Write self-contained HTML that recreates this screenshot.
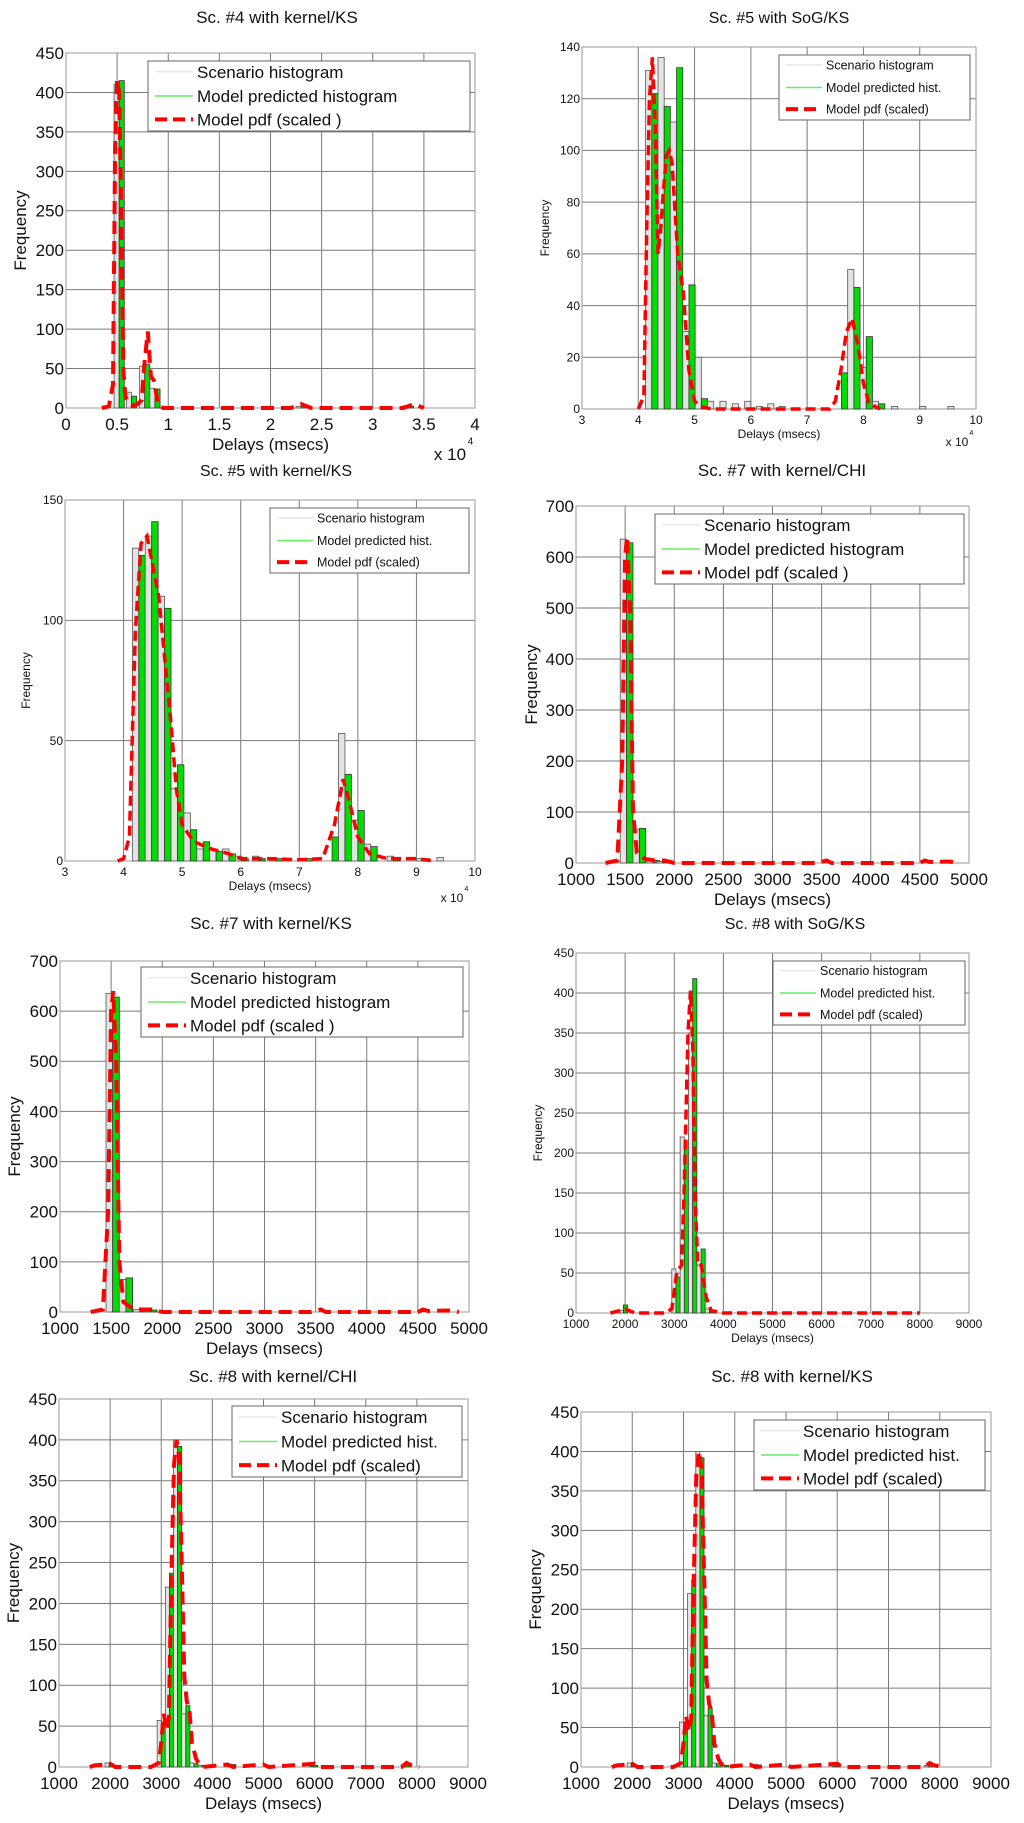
<!DOCTYPE html>
<html><head><meta charset="utf-8">
<style>
html,body{margin:0;padding:0;background:#fff;}
svg{display:block;font-family:"Liberation Sans",sans-serif;}
</style></head>
<body>
<svg id="fig" width="1024" height="1823" viewBox="0 0 1024 1823" xmlns="http://www.w3.org/2000/svg"></svg>
<script>
// ---------- DATA ----------
// Panel 1: Sc. #4 kernel/KS (x in 1e4 msecs)
var p1Bins  = [0.47, 0.59, 0.72, 0.82, 2.25, 3.30];
var p1Scen  = [410, 20, 53, 25, 2, 3];
var p1Model = [415, 15, 55, 24, 3, 2];
var p1PdfX  = [0.35,0.42,0.46,0.48,0.50,0.52,0.54,0.56,0.58,0.62,0.66,0.70,0.74,0.77,0.80,0.83,0.86,0.90,0.95,1.0,1.5,2.2,2.3,2.4,3.3,3.4,3.5];
var p1PdfY  = [0,2,30,330,415,400,250,50,15,5,3,5,10,60,97,40,35,5,0,0,0,0,5,0,0,5,0];
// Panel 2: Sc. #5 SoG/KS
var p2Bins  = [4.13,4.35,4.57,4.79,5.01,5.23,5.45,5.67,5.89,6.10,6.30,6.50,7.50,7.72,7.94,8.16,8.50,9.00,9.50];
var p2Scen  = [131,136,111,30,20,3,3,2,3,1,2,1,0,54,16,3,1,1,1];
var p2Model = [122,117,132,48,4,0,0,0,0,0,0,0,14,47,28,2,0,0,0];
var p2PdfX  = [4.0,4.1,4.15,4.2,4.25,4.3,4.35,4.4,4.45,4.5,4.55,4.6,4.7,4.8,4.9,5.0,5.1,5.3,6,7,7.4,7.5,7.6,7.7,7.8,7.9,8.0,8.1,8.3];
var p2PdfY  = [0,5,70,120,136,110,60,70,85,98,100,95,60,45,15,3,1,0,0,0,0,3,15,30,35,25,10,2,0];
// Panel 3: Sc. #5 kernel/KS
var p3Bins  = [4.15,4.37,4.59,4.81,5.03,5.25,5.47,5.69,5.91,6.2,6.5,7.0,7.45,7.67,7.89,8.11,8.5,9.0,9.35];
var p3Scen  = [130,135,110,30,20,5,5,5,2,2,1,1,0,53,17,7,2,1,1.5];
var p3Model = [127,141,105,40,13,8,4,3,1,1,1,1,10,36,21,6,1,1,0];
var p3PdfX  = [3.9,4.0,4.1,4.2,4.3,4.4,4.6,4.8,4.9,5.0,5.2,5.5,5.8,6.0,6.5,7.0,7.4,7.6,7.75,7.85,8.0,8.2,8.5,9.0,9.3];
var p3PdfY  = [0,1,10,95,132,135,110,60,30,15,8,5,3,1,1,0.5,1,15,34,25,10,3,1,1,0];
// Panel 4: Sc. #7 kernel/CHI
var p4Bins  = [1450,1580,1720,1820];
var p4Scen  = [635,65,5,3];
var p4Model = [628,68,5,4];
var p4PdfX  = [1300,1420,1470,1500,1520,1550,1580,1620,1700,1800,1900,2000,3450,3550,3600,4500,4550,4600,4800,4900];
var p4PdfY  = [0,5,200,600,640,500,100,20,8,5,5,0,0,5,0,0,5,2,3,0];
// Panel 5: Sc. #7 kernel/KS
var p5Bins  = [1450,1580,1720,1820];
var p5Scen  = [635,65,5,3];
var p5Model = [628,68,5,4];
var p5PdfX  = [1300,1420,1470,1500,1520,1550,1580,1620,1700,1800,1900,2000,3450,3550,3600,4500,4550,4600,4800,4900];
var p5PdfY  = [0,5,200,600,640,500,100,20,8,5,5,0,0,5,0,0,5,2,3,0];
// Panel 6: Sc. #8 SoG/KS
var p6Bins  = [1880,2950,3120,3290,3460,3630];
var p6Scen  = [3,55,220,350,60,5];
var p6Model = [10,45,215,418,80,3];
var p6PdfX  = [1700,1900,2000,2200,2800,2950,3050,3150,3200,3280,3330,3380,3420,3480,3550,3650,3750,4000,8000];
var p6PdfY  = [0,3,5,0,0,5,50,60,150,350,403,330,150,60,60,20,3,0,0];
// Panel 7: Sc. #8 kernel/CHI
var p7Bins  = [1900,2920,3080,3240,3400,3560,3720,4300,5900,7700];
var p7Scen  = [5,57,220,400,65,5,2,1,1,2];
var p7Model = [4,48,237,392,75,4,2,3,2,4];
var p7PdfX  = [1600,1700,1900,2000,2100,2800,2950,3000,3050,3100,3150,3200,3250,3300,3350,3400,3450,3500,3550,3600,3680,3750,3800,4300,4400,5000,5100,6000,6100,7700,7800,7900,8050];
var p7PdfY  = [0,2,3,4,0,0,5,30,65,45,60,240,370,400,380,250,110,80,70,30,10,3,0,3,0,3,0,4,0,0,5,2,0];
// Panel 8: Sc. #8 kernel/KS
var p8Bins  = [1900,2920,3080,3240,3400,3560,3720,4300,5900,7700];
var p8Scen  = [5,57,220,400,65,5,2,1,1,2];
var p8Model = [4,48,237,392,75,4,2,3,2,4];
var p8PdfX  = [1600,1700,1900,2000,2100,2800,2950,3000,3050,3100,3150,3200,3250,3300,3350,3400,3450,3500,3550,3600,3680,3750,3800,4300,4400,5000,5100,6000,6100,7700,7800,7900,8050];
var p8PdfY  = [0,2,3,4,0,0,5,30,65,45,60,240,370,400,380,250,110,80,70,30,10,3,0,3,0,3,0,4,0,0,5,2,0];

var xTicksA = ["0","0.5","1","1.5","2","2.5","3","3.5","4"];
var xTicksB = ["3","4","5","6","7","8","9","10"];
var xTicksC = ["1000","1500","2000","2500","3000","3500","4000","4500","5000"];
var xTicksD = ["1000","2000","3000","4000","5000","6000","7000","8000","9000"];

// ---------- LAYOUT ----------
var panels = [
 {id:"p1",title:"Sc. #4 with kernel/KS",tx:277,ty:23,L:66,R:475,T:53,B:408,xmin:0,xmax:4,xt:xTicksA,ymax:450,ystep:50,fs:17,tfs:17,bw:0.1,
  bins:p1Bins,scen:p1Scen,model:p1Model,px:p1PdfX,py:p1PdfY,leg:[148,61,470,131],legLabels:["Scenario histogram","Model predicted histogram","Model pdf (scaled )"],lfs:17,ylx:26,exp:[450,460]},
 {id:"p2",title:"Sc. #5 with SoG/KS",tx:779,ty:23,L:582,R:976,T:47,B:409,xmin:3,xmax:10,xt:xTicksB,ymax:140,ystep:20,fs:12,tfs:16,bw:0.22,
  bins:p2Bins,scen:p2Scen,model:p2Model,px:p2PdfX,py:p2PdfY,leg:[779,55,970,120],legLabels:["Scenario histogram","Model predicted hist.","Model pdf (scaled)"],lfs:12.5,ylx:549,exp:[957,446]},
 {id:"p3",title:"Sc. #5 with kernel/KS",tx:276,ty:476,L:65,R:475,T:500,B:861,xmin:3,xmax:10,xt:xTicksB,ymax:150,ystep:50,fs:12,tfs:16,bw:0.22,
  bins:p3Bins,scen:p3Scen,model:p3Model,px:p3PdfX,py:p3PdfY,leg:[270,508,469,573],legLabels:["Scenario histogram","Model predicted hist.","Model pdf (scaled)"],lfs:12.5,ylx:30,exp:[452,902]},
 {id:"p4",title:"Sc. #7 with kernel/CHI",tx:782,ty:476,L:576,R:969,T:506,B:863,xmin:1000,xmax:5000,xt:xTicksC,ymax:700,ystep:100,fs:17,tfs:17,bw:130,
  bins:p4Bins,scen:p4Scen,model:p4Model,px:p4PdfX,py:p4PdfY,leg:[655,514,964,584],legLabels:["Scenario histogram","Model predicted histogram","Model pdf (scaled )"],lfs:17,ylx:537},
 {id:"p5",title:"Sc. #7 with kernel/KS",tx:271,ty:929,L:60,R:469,T:961,B:1312,xmin:1000,xmax:5000,xt:xTicksC,ymax:700,ystep:100,fs:17,tfs:17,bw:130,
  bins:p5Bins,scen:p5Scen,model:p5Model,px:p5PdfX,py:p5PdfY,leg:[141,967,463,1037],legLabels:["Scenario histogram","Model predicted histogram","Model pdf (scaled )"],lfs:17,ylx:20},
 {id:"p6",title:"Sc. #8 with SoG/KS",tx:795,ty:929,L:576,R:969,T:953,B:1313,xmin:1000,xmax:9000,xt:xTicksD,ymax:450,ystep:50,fs:12,tfs:16,bw:170,
  bins:p6Bins,scen:p6Scen,model:p6Model,px:p6PdfX,py:p6PdfY,leg:[773,961,965,1025],legLabels:["Scenario histogram","Model predicted hist.","Model pdf (scaled)"],lfs:12.5,ylx:542},
 {id:"p7",title:"Sc. #8 with kernel/CHI",tx:273,ty:1382,L:59,R:468,T:1399,B:1767,xmin:1000,xmax:9000,xt:xTicksD,ymax:450,ystep:50,fs:17,tfs:17,bw:160,
  bins:p7Bins,scen:p7Scen,model:p7Model,px:p7PdfX,py:p7PdfY,leg:[232,1406,462,1477],legLabels:["Scenario histogram","Model predicted hist.","Model pdf (scaled)"],lfs:17,ylx:19},
 {id:"p8",title:"Sc. #8 with kernel/KS",tx:792,ty:1382,L:581,R:991,T:1412,B:1767,xmin:1000,xmax:9000,xt:xTicksD,ymax:450,ystep:50,fs:17,tfs:17,bw:160,
  bins:p8Bins,scen:p8Scen,model:p8Model,px:p8PdfX,py:p8PdfY,leg:[754,1420,985,1490],legLabels:["Scenario histogram","Model predicted hist.","Model pdf (scaled)"],lfs:17,ylx:541}
];

var NS="http://www.w3.org/2000/svg";
var svg=document.getElementById("fig");
function mk(tag,attrs,parent){var e=document.createElementNS(NS,tag);for(var k in attrs)e.setAttribute(k,attrs[k]);(parent||svg).appendChild(e);return e;}

panels.forEach(function(p){
  var g=mk("g",{});
  
  
  function sx(v){return p.L+(v-p.xmin)/(p.xmax-p.xmin)*(p.R-p.L);}
  function sy(v){return p.B-v/p.ymax*(p.B-p.T);}
  var t=mk("text",{x:p.tx,y:p.ty,"font-size":p.tfs,"text-anchor":"middle",fill:"#111"},g);
  t.textContent=p.title;
  
  
  // grid
  var n=p.xt.length;
  for(var i=0;i<n;i++){
    var x=p.L+i*(p.R-p.L)/(n-1);
    var gl=mk("line",{x1:x,x2:x,y1:p.T,y2:p.B,stroke:"#7a7a7a","stroke-width":1},g);
    
    
    var tl=mk("text",{x:x,y:p.B+(p.fs>14?22:15),"font-size":p.fs,"text-anchor":"middle",fill:"#111"},g);
    tl.textContent=p.xt[i];
    
    
  }
  for(var v=0;v<=p.ymax+0.001;v+=p.ystep){
    var y=sy(v);
    var hl=mk("line",{x1:p.L,x2:p.R,y1:y,y2:y,stroke:"#7a7a7a","stroke-width":1},g);
    
    
    var yl=mk("text",{x:p.L-2,y:y+p.fs*0.35,"font-size":p.fs,"text-anchor":"end",fill:"#111"},g);
    yl.textContent=String(v);
    
    
  }
  var box=mk("rect",{x:p.L,y:p.T,width:p.R-p.L,height:p.B-p.T,fill:"none",stroke:"#999","stroke-width":1},g);
  
  
  // bars
  var hw=p.bw/2;
  for(var j=0;j<p.bins.length;j++){
    var b0=p.bins[j];
    var gb=mk("rect",{x:sx(b0),y:sy(p.scen[j]),width:Math.max(1,sx(b0+hw)-sx(b0)),height:p.B-sy(p.scen[j]),fill:"#e3e3e3",stroke:"#555","stroke-width":0.8},g);
    
    
    var mb=mk("rect",{x:sx(b0+hw),y:sy(p.model[j]),width:Math.max(1,sx(b0+2*hw)-sx(b0+hw)),height:p.B-sy(p.model[j]),fill:"#00dd00",stroke:"#333","stroke-width":0.8},g);
    
    
  }
  var d="";
  for(var k=0;k<p.px.length;k++){d+=(k?"L":"M")+sx(p.px[k]).toFixed(1)+","+sy(p.py[k]).toFixed(1);}
  var pl=mk("path",{d:d,fill:"none",stroke:"#ff0000","stroke-width":p.fs>14?4:3.5,"stroke-dasharray":p.fs>14?"13,7":"10,5"},g);
  
  
  // axis labels
  var xl=mk("text",{x:(p.L+p.R)/2,y:p.B+(p.fs>14?42:29),"font-size":p.fs,"text-anchor":"middle",fill:"#111"},g);
  xl.textContent="Delays (msecs)";
  
  
  var ym=(p.T+p.B)/2;
  var ylab=mk("text",{x:p.ylx,y:ym,"font-size":p.fs,"text-anchor":"middle",fill:"#111",transform:"rotate(-90 "+p.ylx+" "+ym+")"},g);
  ylab.textContent="Frequency";
  
  
  if(p.exp){
    var ex=mk("text",{x:p.exp[0],y:p.exp[1],"font-size":p.fs,"text-anchor":"middle",fill:"#111"},g);
    ex.textContent="x 10";
    
    
    var es=mk("text",{x:p.exp[0]+p.fs*1.2,y:p.exp[1]-p.fs*0.9,"font-size":p.fs*0.6,"text-anchor":"middle",fill:"#111"},g);
    es.textContent="4";
    
    
  }
  // legend
  var L=p.leg;
  var lg=mk("g",{},g);
  
  
  var lb=mk("rect",{x:L[0],y:L[1],width:L[2]-L[0],height:L[3]-L[1],fill:"#fff",stroke:"#666","stroke-width":1},lg);
  
  
  var rowH=(L[3]-L[1])/3;
  var sw=(p.lfs>14?38:36);
  var cols=["#e8e8e8","#66ee66","#ff0000"];
  for(var r=0;r<3;r++){
    var cy=L[1]+rowH*(r+0.5)+(r==0?-1:0);
    var ln=mk("line",{x1:L[0]+7,x2:L[0]+7+sw,y1:cy,y2:cy,stroke:cols[r],"stroke-width":r==2?4:1.5,"stroke-dasharray":r==2?"12,6":"none"},lg);
    
    
    var lt=mk("text",{x:L[0]+11+sw,y:cy+p.lfs*0.36,"font-size":p.lfs,fill:"#111"},lg);
    lt.textContent=p.legLabels[r];
    
    
  }
});
</script>
</body></html>
